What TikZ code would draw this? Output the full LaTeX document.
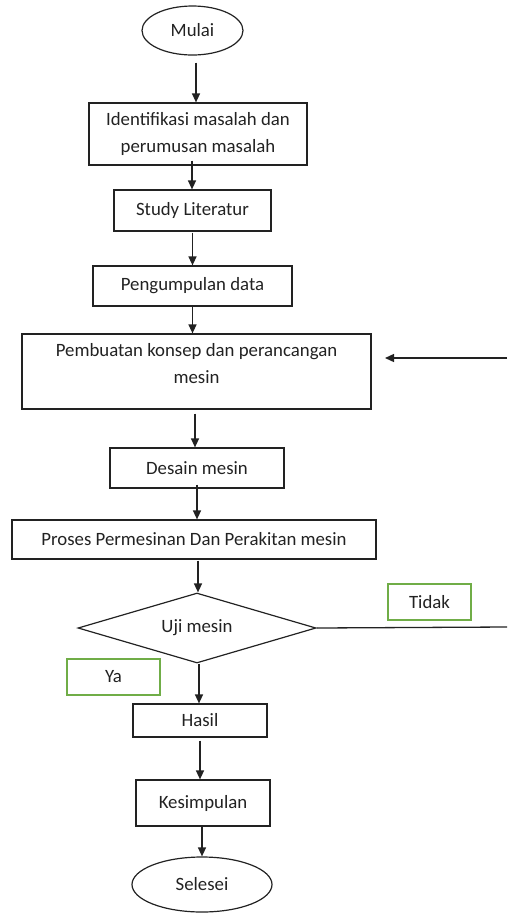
\documentclass[tikz,border=0pt]{standalone}
\usepackage{fontspec}
\setmainfont{Carlito}
\usetikzlibrary{shapes.geometric,arrows.meta}
\definecolor{ln}{HTML}{222222}
\definecolor{grn}{HTML}{70AD47}
\tikzset{
  box/.style={draw=ln,line width=1.2pt,rectangle,inner sep=0pt,align=center,text=ln},
  oval/.style={draw=ln,line width=1.2pt,ellipse,inner sep=0pt,text=ln},
  gbox/.style={draw=grn,line width=1.2pt,rectangle,inner sep=0pt,text=ln},
  arr/.style={draw=ln,line width=1.3pt,-{Triangle[length=9pt,width=8pt]}},
  ln/.style={draw=ln,line width=1.3pt}
}
\begin{document}
\begin{tikzpicture}[x=1pt,y=-1pt,font=\fontsize{18.8pt}{27pt}\selectfont]
\useasboundingbox (0,0) rectangle (507,914);
\node[oval,minimum width=101pt,minimum height=49pt] (mulai) at (192.5,30.5) {Mulai};
\node[box,minimum width=218pt,minimum height=62pt] (ident) at (198,134) {Identifikasi masalah dan\\perumusan masalah};
\node[box,minimum width=157pt,minimum height=41pt] (study) at (192.5,210.5) {Study Literatur};
\node[box,minimum width=199pt,minimum height=40pt] (peng) at (192.5,286) {Pengumpulan data};
\node[box,minimum width=349pt,minimum height=75pt] (pemb) at (196.5,371.5) {Pembuatan konsep dan perancangan\\mesin\\[-10pt]};
\node[box,minimum width=174pt,minimum height=40pt] (desain) at (197,468) {Desain mesin};
\node[box,minimum width=364pt,minimum height=39pt] (proses) at (194,539.5) {Proses Permesinan Dan Perakitan mesin};
\node[draw=ln,line width=1.2pt,diamond,aspect=3.4,inner sep=0pt,text=ln,minimum width=238pt,minimum height=70pt] (uji) at (197,628) {Uji mesin};
\node[gbox,minimum width=83pt,minimum height=36pt] (tidak) at (429.5,602) {Tidak};
\node[gbox,minimum width=93pt,minimum height=36pt] (ya) at (113.5,677) {Ya};
\node[box,minimum width=134pt,minimum height=33pt] (hasil) at (200,720.5) {Hasil};
\node[box,minimum width=134pt,minimum height=46pt] (kesim) at (203,803) {Kesimpulan};
\node[oval,minimum width=140pt,minimum height=55pt] (selesei) at (202,884.5) {Selesei};
\coordinate (fbA) at (507,627);
\coordinate (fbB) at (507,358);
\coordinate (fbT) at (385,358);
\draw[arr] ([shift={(3.5,7)}]mulai.south) -- ([xshift=3.5]mulai.south |- ident.north);
\draw[arr] ([shift={(-6,-5)}]ident.south) -- ([xshift=-6]ident.south |- study.north);
\draw[arr] ([shift={(0,1)}]study.south) -- (study.south |- peng.north);
\draw[arr] (peng.south) -- (peng.south |- pemb.north);
\draw[arr] ([shift={(-1.5,4)}]pemb.south) -- ([xshift=-1.5]pemb.south |- desain.north);
\draw[arr] ([shift={(0,-4)}]desain.south) -- (desain.south |- proses.north);
\draw[arr] ([shift={(4,1)}]proses.south) -- ([xshift=4]proses.south |- uji.north);
\draw[arr] ([xshift=2]uji.south) -- ([xshift=2]uji.south |- hasil.north);
\draw[arr] ([shift={(0,3)}]hasil.south) -- (hasil.south |- kesim.north);
\draw[arr] ([xshift=-1]kesim.south) -- ([xshift=-1]kesim.south |- selesei.north);
\draw[ln] (uji.east) -- (fbA);
\draw[arr] (fbB) -- (fbT);
\end{tikzpicture}
\end{document}
